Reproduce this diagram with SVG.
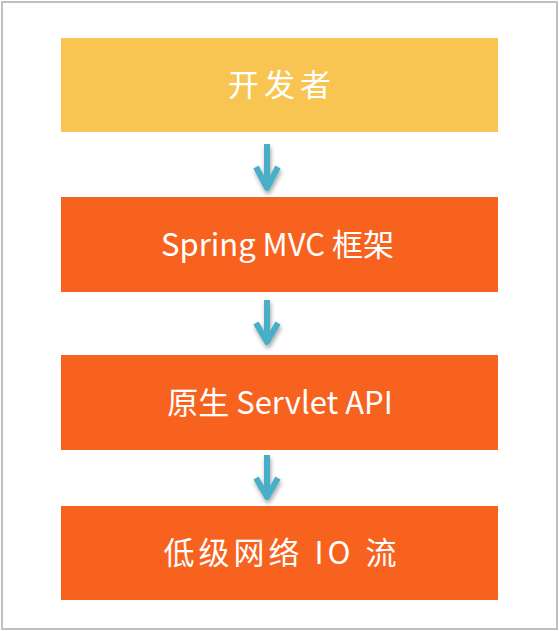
<svg xmlns="http://www.w3.org/2000/svg" width="559" height="631" viewBox="0 0 559 631">
<defs>
<style>
.frame{fill:#ffffff;stroke:#c0c0c0;stroke-width:2}
.dev{fill:#F8C552}
.layer{fill:#F8621F}
.lbl{fill:#ffffff;font-family:"Noto Sans CJK SC","Noto Sans",sans-serif;font-size:31px;text-anchor:middle}
.arrow{fill:none;stroke:#4AAEC8;stroke-width:6;stroke-linejoin:round;filter:url(#sh)}
</style>
<filter id="sh" x="-50%" y="-20%" width="200%" height="160%">
<feDropShadow dx="1" dy="3" stdDeviation="2" flood-color="#000000" flood-opacity="0.35"/>
</filter>
</defs>
<rect class="frame" x="2" y="2" width="555" height="627"/>
<g id="node-developer">
<rect class="dev" x="61" y="38" width="437" height="94"/>
<text class="lbl" x="282" y="96" letter-spacing="5">开发者</text>
</g>
<g id="node-springmvc">
<rect class="layer" x="61" y="197" width="437" height="95"/>
<text class="lbl" x="277.5" y="256">Spring MVC 框架</text>
</g>
<g id="node-servlet">
<rect class="layer" x="61" y="355" width="437" height="95"/>
<text class="lbl" x="280" y="414">原生 Servlet API</text>
</g>
<g id="node-io">
<rect class="layer" x="61" y="506" width="437" height="94"/>
<text class="lbl" x="282" y="564" letter-spacing="4">低级网络 IO 流</text>
</g>
<g id="connectors">
<path class="arrow" d="M267 144 V188 M256 167 L267 188 L278 167"/>
<path class="arrow" d="M267 300 V342 M256 323 L267 342 L278 323"/>
<path class="arrow" d="M267 455 V497 M256 478 L267 497 L278 478"/>
</g>
</svg>
